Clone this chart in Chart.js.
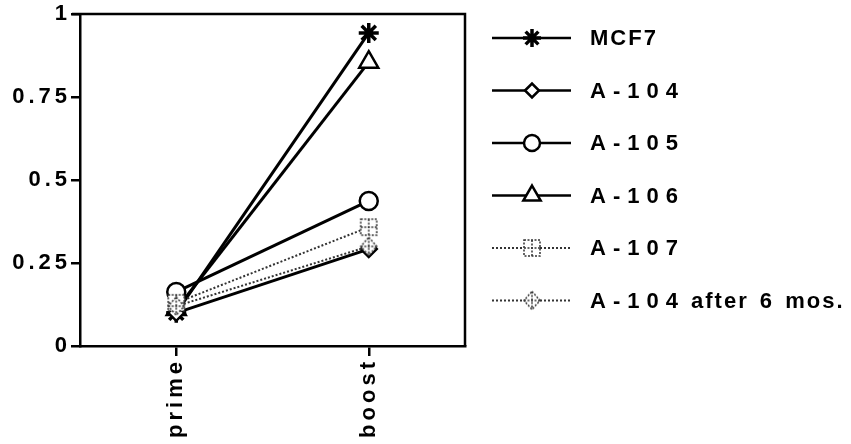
<!DOCTYPE html>
<html>
<head>
<meta charset="utf-8">
<script src="https://cdn.jsdelivr.net/npm/chart.js@4"></script>
<style>
  html, body { margin: 0; padding: 0; background: #fff; }
  #wrap { width: 851px; height: 444px; }
</style>
</head>
<body>
<div id="wrap"><canvas id="myChart" width="851" height="444"></canvas></div>
<script>
// data
var categories = ['prime', 'boost'];
var seriesNames = ['MCF7', 'A-104', 'A-105', 'A-106', 'A-107', 'A-104 after 6 mos.'];
var mcf7 = [0.10, 0.943];
var a104 = [0.10, 0.292];
var a105 = [0.163, 0.437];
var a106 = [0.11, 0.855];
var a107 = [0.13, 0.358];
var a104After6 = [0.12, 0.30];
var yTicks = [0, 0.25, 0.5, 0.75, 1];

var FONT = '"Liberation Sans", Arial, sans-serif';

// marker images for the two odd symbols
function makeMarker(kind) {
    var c = document.createElement('canvas');
    c.width = 22; c.height = 22;
    var g = c.getContext('2d');
    g.fillStyle = '#fff';
    g.strokeStyle = '#333';
    g.lineWidth = 1.5;
    g.setLineDash([2, 1.5]);
    if (kind === 'square') {
        g.fillRect(3, 3, 16, 16);
        g.strokeRect(3, 3, 16, 16);
        g.beginPath();
        g.moveTo(11, 3); g.lineTo(11, 19);
        g.moveTo(3, 11); g.lineTo(19, 11);
        g.stroke();
    } else {
        g.beginPath();
        g.moveTo(11, 2); g.lineTo(19, 11); g.lineTo(11, 20); g.lineTo(3, 11); g.closePath();
        g.fill(); g.stroke();
        g.beginPath();
        g.moveTo(11, 2); g.lineTo(11, 20);
        g.moveTo(3, 11); g.lineTo(19, 11);
        g.stroke();
    }
    return c;
}
var squareMarker = makeMarker('square');
var crossDiamond = makeMarker('diamond');

function series(label, data, style, radius, dotted) {
    return {
        label: label,
        data: data,
        borderColor: dotted ? '#333' : '#000',
        backgroundColor: '#fff',
        borderWidth: dotted ? 2 : 3,
        borderDash: dotted ? [2, 2] : [],
        pointStyle: style,
        pointRadius: radius,
        pointBorderWidth: 2.5,
        pointBorderColor: '#000',
        pointBackgroundColor: '#fff',
        fill: false,
        tension: 0
    };
}

var datasets = [
    series(seriesNames[5], a104After6, crossDiamond, 10, true),
    series(seriesNames[4], a107, squareMarker, 10, true),
    series(seriesNames[1], a104, 'rectRot', 8, false),
    series(seriesNames[2], a105, 'circle', 9, false),
    series(seriesNames[3], a106, 'triangle', 11, false),
    series(seriesNames[0], mcf7, 'star', 10, false)
];
datasets[5].pointBorderWidth = 3.5;

// extra gap after a character in the legend labels
function gapAfter(ch, next) {
    var d = /[0-9\-]/;
    if ((d.test(ch) && d.test(next)) || (ch === 'A' && next === '-')) return 7;
    if (ch === ' ') return 5;
    return 2;
}

var boxPlugin = {
    id: 'box',
    beforeUpdate: function (chart) { chart.ctx.letterSpacing = '4px'; },
    beforeDraw: function (chart) { chart.ctx.letterSpacing = '4px'; },
    afterDraw: function (chart) {
        var ctx = chart.ctx, a = chart.chartArea;
        ctx.save();
        ctx.strokeStyle = '#000';
        ctx.lineWidth = 2.5;
        ctx.beginPath();
        ctx.moveTo(a.left - 8, a.top);
        ctx.lineTo(a.right, a.top);
        ctx.lineTo(a.right, a.bottom);
        ctx.stroke();
        ctx.restore();

        // legend: line with marker in the middle, then label
        var order = [5, 2, 3, 4, 1, 0];
        ctx.save();
        ctx.font = 'bold 22px ' + FONT;
        ctx.textBaseline = 'middle';
        ctx.letterSpacing = '0px';
        for (var i = 0; i < order.length; i++) {
            var ds = chart.data.datasets[order[i]];
            var y = 38 + i * 52.5;
            ctx.strokeStyle = ds.borderColor;
            ctx.lineWidth = ds.borderWidth === 3 ? 2.5 : 2;
            ctx.setLineDash(ds.borderDash);
            ctx.beginPath();
            ctx.moveTo(492, y);
            ctx.lineTo(571, y);
            ctx.stroke();
            ctx.setLineDash([]);
            ctx.strokeStyle = '#000';
            ctx.fillStyle = '#fff';
            ctx.lineWidth = ds.pointBorderWidth;
            Chart.helpers.drawPoint(ctx, {
                pointStyle: ds.pointStyle, radius: ds.pointRadius - 1, rotation: 0, borderWidth: ds.pointBorderWidth
            }, 532, y);
            ctx.fillStyle = '#000';
            var x = 590, txt = ds.label;
            for (var k = 0; k < txt.length; k++) {
                var ch = txt[k];
                ctx.fillText(ch, x, y + 1);
                x += ctx.measureText(ch).width + gapAfter(ch, txt[k + 1] || '');
            }
        }
        ctx.restore();
    }
};

new Chart('myChart', {
    type: 'line',
    data: { labels: categories, datasets: datasets },
    plugins: [boxPlugin],
    options: {
        responsive: false,
        animation: false,
        layout: { padding: { top: 14, right: 386, left: 0, bottom: 0 } },
        plugins: {
            legend: { display: false },
            title: { display: false },
            tooltip: { enabled: false }
        },
        scales: {
            x: {
                offset: true,
                afterFit: function (s) { s.height = 98; },
                grid: { drawOnChartArea: false, offset: false, color: '#000', lineWidth: 2.5, tickLength: 10 },
                border: { color: '#000', width: 2.5 },
                ticks: {
                    minRotation: 90, maxRotation: 90, crossAlign: 'far', padding: 2,
                    color: '#000',
                    font: { family: FONT, size: 22, weight: 'bold' }
                }
            },
            y: {
                min: 0, max: 1,
                afterFit: function (s) { s.width = 80; },
                afterBuildTicks: function (s) { s.ticks = yTicks.map(function (v) { return { value: v }; }); },
                grid: { drawOnChartArea: false, color: '#000', lineWidth: 2.5, tickLength: 9 },
                border: { color: '#000', width: 2.5 },
                ticks: {
                    padding: 0,
                    color: '#000',
                    font: { family: FONT, size: 22, weight: 'bold' },
                    callback: function (v) { return String(v); }
                }
            }
        }
    }
});
</script>
</body>
</html>
